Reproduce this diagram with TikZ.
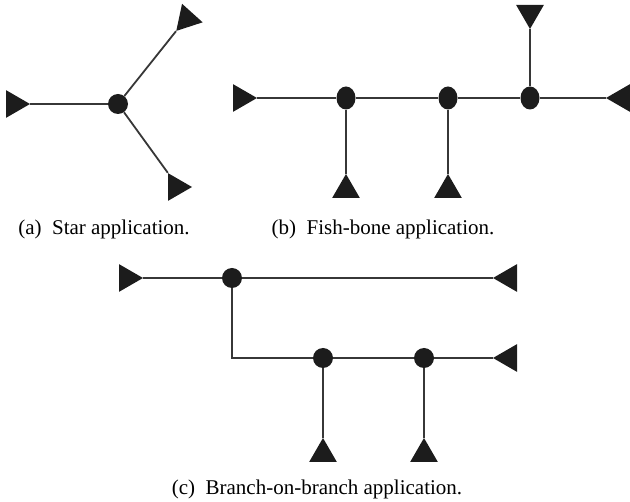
\documentclass[tikz,border=0pt]{standalone}
\usepackage{fontspec}
\setmainfont{Liberation Serif}
\usepackage{tikz}
\usetikzlibrary{shapes.geometric}
\definecolor{mydark}{RGB}{28,28,28}
\definecolor{myline}{RGB}{55,55,55}
\tikzset{
  hub/.style={circle, fill=mydark, inner sep=0pt, minimum size=20pt},
  oval/.style={ellipse, fill=mydark, inner sep=0pt, minimum width=19pt, minimum height=23pt},
  tri/.style={regular polygon, regular polygon sides=3, fill=mydark, inner sep=0pt, minimum size=32pt},
  tright/.style={tri, shape border rotate=-90},
  tleft/.style={tri, shape border rotate=90},
  tup/.style={tri},
  tdown/.style={tri, shape border rotate=180},
  capt/.style={anchor=base, inner sep=0pt, font=\fontsize{21}{25}\selectfont}
}
\begin{document}
\begin{tikzpicture}[x=1pt, y=-1pt]
	\useasboundingbox (0,0) rectangle (630,502);

	% (a) star
	\node (Sc) [hub] at (118,104) {};
	\node (Sl) [tright] at (14,104) {};
	\node (Su) [tri, shape border rotate=-102] at (187,19) {};
	\node (Sd) [tright] at (176,187) {};

	% (b) fish-bone
	\node (Fl) [tright] at (241,98) {};
	\node (F1) [oval] at (346,98) {};
	\node (F2) [oval] at (448,98) {};
	\node (F3) [oval] at (530,98) {};
	\node (Fr) [tleft] at (622,98) {};
	\node (Fb1) [tup] at (346,190) {};
	\node (Fb2) [tup] at (448,190) {};
	\node (Ft) [tdown] at (530,13) {};

	% (c) branch-on-branch
	\node (Bl) [tright] at (127,278) {};
	\node (B1) [hub] at (232,278) {};
	\node (Br) [tleft] at (509,278) {};
	\node (B2) [hub] at (323,358) {};
	\node (B3) [hub] at (424,358) {};
	\node (Br2) [tleft] at (509,358) {};
	\node (Bb1) [tup] at (323,454) {};
	\node (Bb2) [tup] at (424,454) {};

	\begin{scope}[every edge/.style={draw=myline, line width=1.8pt}]
		\path (Sl.corner 1) edge (Sc);
		\path (Sc) edge (Su.corner 3);
		\path (Sc) edge (Sd.corner 2);

		\path (Fl.corner 1) edge[line width=2.4pt] (F1);
		\path (F1) edge[line width=2.4pt] (F2);
		\path (F2) edge[line width=2.4pt] (F3);
		\path (F3) edge[line width=2.4pt] (Fr.corner 1);
		\path (F1) edge (Fb1.corner 1);
		\path (F2) edge (Fb2.corner 1);
		\path (Ft.corner 1) edge (F3);

		\path (Bl.corner 1) edge (B1);
		\path (B1) edge (Br.corner 1);
		\path (B1) edge[to path={|- (\tikztotarget)}] (B2);
		\path (B2) edge (B3);
		\path (B3) edge (Br2.corner 1);
		\path (B2) edge (Bb1.corner 1);
		\path (B3) edge (Bb2.corner 1);
	\end{scope}

	\node (Ca) [capt] at (104,235) {(a)\enspace Star application.};
	\node (Cb) [capt] at (383,235) {(b)\enspace Fish-bone application.};
	\node (Cc) [capt] at (317,495) {(c)\enspace Branch-on-branch application.};
\end{tikzpicture}
\end{document}
